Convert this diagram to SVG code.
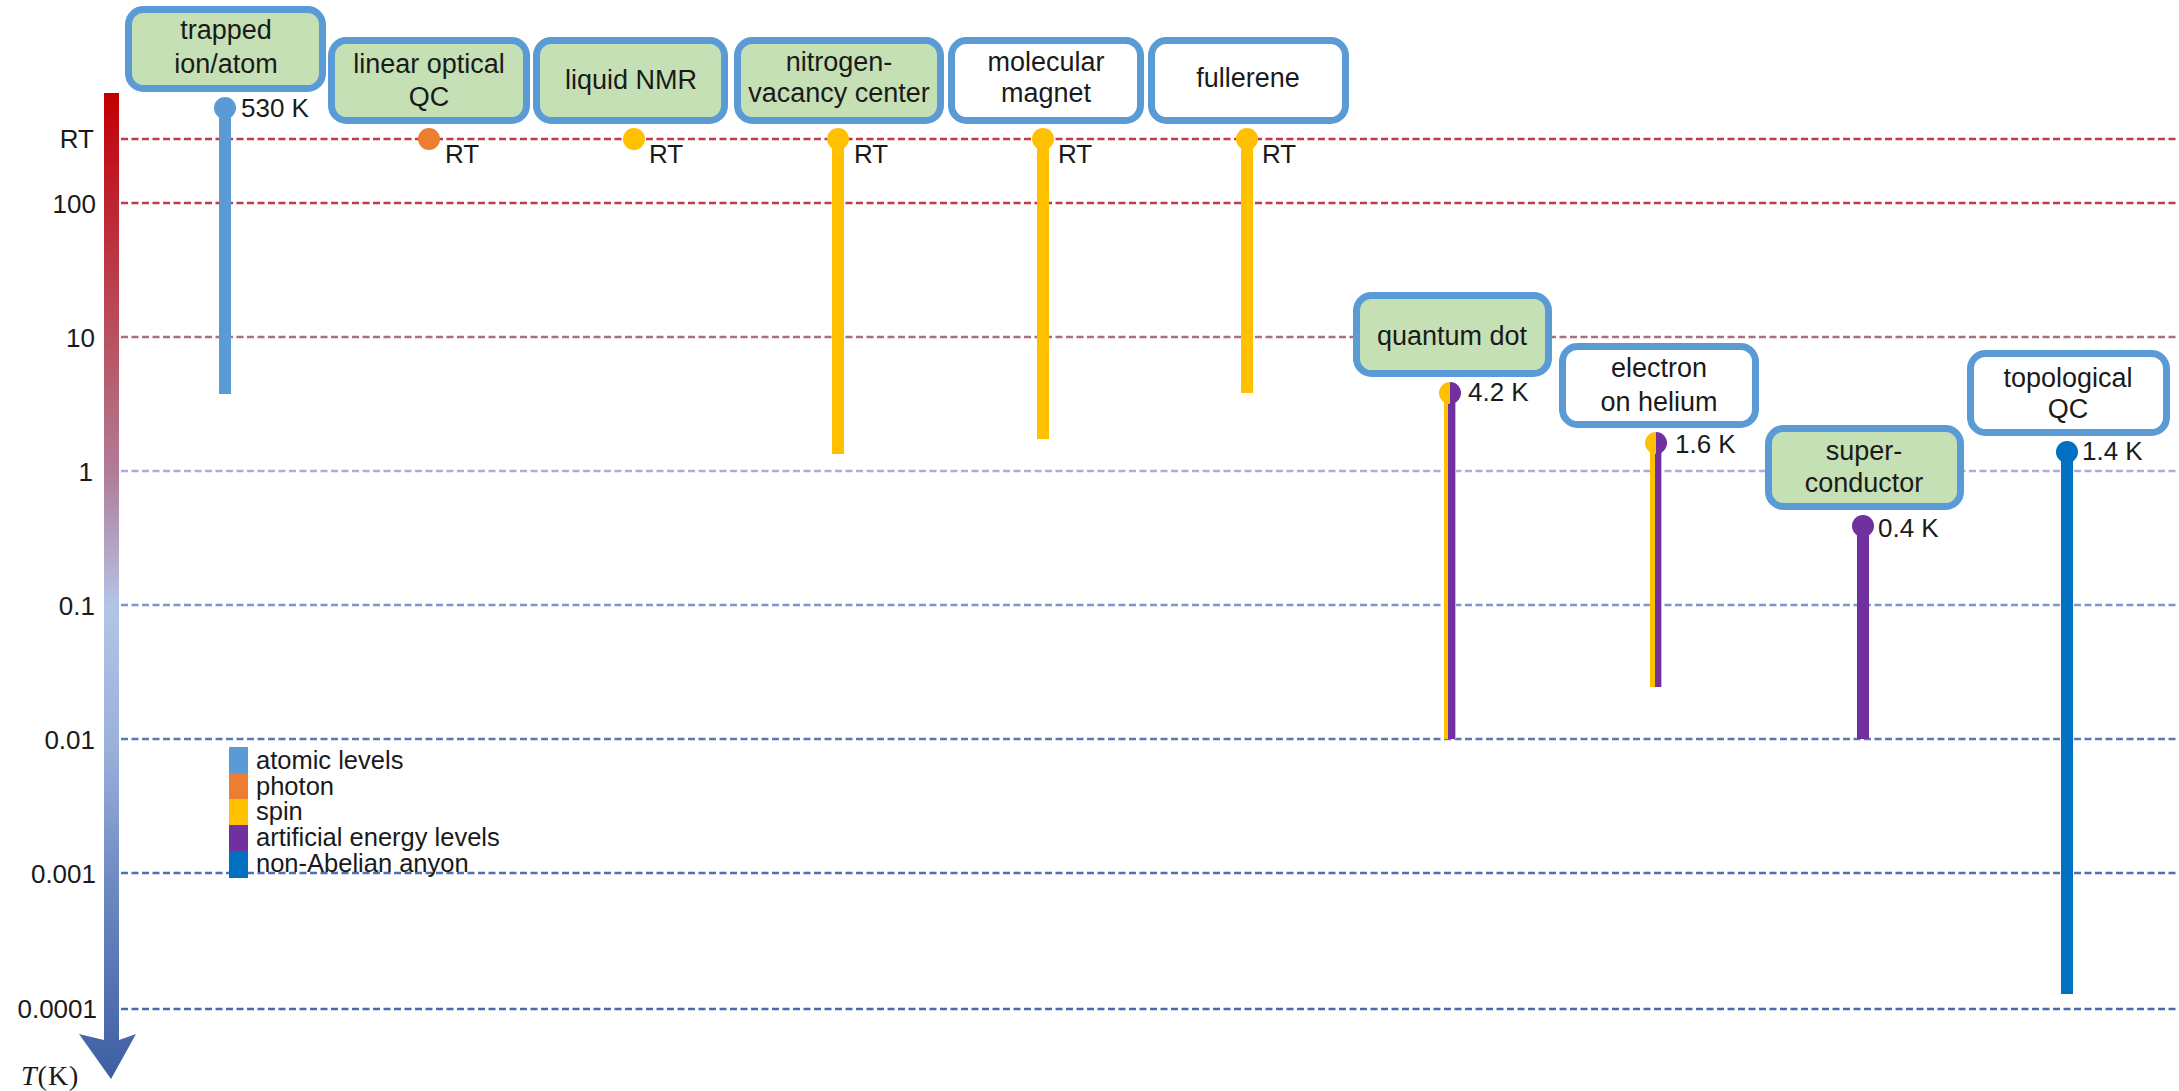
<svg xmlns="http://www.w3.org/2000/svg" width="2179" height="1091" viewBox="0 0 2179 1091">
<defs>
<style>
text{font-family:"Liberation Sans",Arial,sans-serif;fill:#1a1a1a}
.bt{font-size:27px;text-anchor:middle}
.lb{font-size:26px}
.ax{font-size:26px;text-anchor:end}
.lg{font-size:25.5px}
.box{stroke:#5B9BD5;stroke-width:7}
.g{fill:#C5E0B4}
.w{fill:#ffffff}
.grid{stroke-width:2.6;stroke-dasharray:7 3.5;fill:none}
</style>
<linearGradient id="axg" gradientUnits="userSpaceOnUse" x1="0" y1="93" x2="0" y2="1080">
<stop offset="0" stop-color="#C00000"/>
<stop offset="0.06" stop-color="#C0121E"/>
<stop offset="0.25" stop-color="#B8525F"/>
<stop offset="0.39" stop-color="#B07F9B"/>
<stop offset="0.52" stop-color="#B3C5E7"/>
<stop offset="0.66" stop-color="#9BB1DA"/>
<stop offset="0.8" stop-color="#6F8AC3"/>
<stop offset="1" stop-color="#3D5EA3"/>
</linearGradient>
</defs>
<rect width="2179" height="1091" fill="#ffffff"/>

<g id="grid">
<line class="grid" x1="121" y1="139" x2="2179" y2="139" stroke="#C23B4A"/>
<line class="grid" x1="121" y1="203" x2="2179" y2="203" stroke="#C23B4A"/>
<line class="grid" x1="121" y1="337" x2="2179" y2="337" stroke="#A8707F"/>
<line class="grid" x1="121" y1="471" x2="2179" y2="471" stroke="#A9AED6"/>
<line class="grid" x1="121" y1="605" x2="2179" y2="605" stroke="#7F95CC"/>
<line class="grid" x1="121" y1="739" x2="2179" y2="739" stroke="#5A78B8"/>
<line class="grid" x1="121" y1="873" x2="2179" y2="873" stroke="#5070B2"/>
<line class="grid" x1="121" y1="1009" x2="2179" y2="1009" stroke="#4A68AC"/>
</g>

<g id="axis">
<polygon points="104,93 119,93 119,1040 136,1034 111,1079 79,1034 104,1040" fill="url(#axg)"/>
<text class="ax" x="94" y="148">RT</text>
<text class="ax" x="96" y="213">100</text>
<text class="ax" x="95" y="347">10</text>
<text class="ax" x="93" y="481">1</text>
<text class="ax" x="95" y="615">0.1</text>
<text class="ax" x="95" y="749">0.01</text>
<text class="ax" x="96" y="883">0.001</text>
<text class="ax" x="97" y="1018">0.0001</text>
<text x="21" y="1085" style="font-family:'Liberation Serif','Times New Roman',serif;font-size:28px;letter-spacing:1px"><tspan font-style="italic">T</tspan>(K)</text>
</g>

<g id="legend">
<rect x="229" y="747" width="19" height="26" fill="#5B9BD5"/>
<rect x="229" y="773" width="19" height="26" fill="#ED7D31"/>
<rect x="229" y="799" width="19" height="26" fill="#FFC000"/>
<rect x="229" y="825" width="19" height="26" fill="#7030A0"/>
<rect x="229" y="851" width="19" height="27" fill="#0070C0"/>
<text class="lg" x="256" y="769">atomic levels</text>
<text class="lg" x="256" y="795">photon</text>
<text class="lg" x="256" y="820">spin</text>
<text class="lg" x="256" y="846">artificial energy levels</text>
<text class="lg" x="256" y="872">non-Abelian anyon</text>
</g>

<g id="connectors">
<rect x="219" y="108" width="12" height="286" fill="#5B9BD5"/>
<circle cx="225" cy="108" r="11" fill="#5B9BD5"/>
<circle cx="429" cy="139" r="11" fill="#ED7D31"/>
<circle cx="634" cy="139" r="11" fill="#FFC000"/>
<rect x="832" y="139" width="12" height="315" fill="#FFC000"/>
<circle cx="838" cy="139" r="11" fill="#FFC000"/>
<rect x="1037" y="139" width="12" height="300" fill="#FFC000"/>
<circle cx="1043" cy="139" r="11" fill="#FFC000"/>
<rect x="1241" y="139" width="12" height="254" fill="#FFC000"/>
<circle cx="1247" cy="139" r="11" fill="#FFC000"/>
<rect x="1444" y="393" width="12" height="346" fill="#FFC000"/>
<rect x="1448" y="393" width="7" height="346" fill="#7030A0"/>
<path d="M1450,382 A11,11 0 0 0 1450,404 Z" fill="#FFC000"/>
<path d="M1450,382 A11,11 0 0 1 1450,404 Z" fill="#7030A0"/>
<rect x="1650" y="443" width="12" height="244" fill="#FFC000"/>
<rect x="1655" y="443" width="6" height="244" fill="#7030A0"/>
<path d="M1656,432 A11,11 0 0 0 1656,454 Z" fill="#FFC000"/>
<path d="M1656,432 A11,11 0 0 1 1656,454 Z" fill="#7030A0"/>
<rect x="1857" y="526" width="12" height="213" fill="#7030A0"/>
<circle cx="1863" cy="526" r="11" fill="#7030A0"/>
<rect x="2061" y="452" width="12" height="542" fill="#0070C0"/>
<circle cx="2067" cy="452" r="11" fill="#0070C0"/>
<text class="lb" x="241" y="117">530 K</text>
<text class="lb" x="445" y="163">RT</text>
<text class="lb" x="649" y="163">RT</text>
<text class="lb" x="854" y="163">RT</text>
<text class="lb" x="1058" y="163">RT</text>
<text class="lb" x="1262" y="163">RT</text>
<text class="lb" x="1468" y="401">4.2 K</text>
<text class="lb" x="1675" y="453">1.6 K</text>
<text class="lb" x="1878" y="537">0.4 K</text>
<text class="lb" x="2082" y="460">1.4 K</text>
</g>

<g id="trapped-ion">
<rect class="box g" x="128.5" y="9.5" width="194" height="79" rx="15"/>
<text class="bt" x="226" y="39">trapped</text>
<text class="bt" x="226" y="73">ion/atom</text>
</g>
<g id="linear-optical-qc">
<rect class="box g" x="331.5" y="40.5" width="195" height="80" rx="15"/>
<text class="bt" x="429" y="73">linear optical</text>
<text class="bt" x="429" y="106">QC</text>
</g>
<g id="liquid-nmr">
<rect class="box g" x="536.5" y="40.5" width="188" height="80" rx="15"/>
<text class="bt" x="631" y="89">liquid NMR</text>
</g>
<g id="nv-center">
<rect class="box g" x="737.5" y="40.5" width="203" height="80" rx="15"/>
<text class="bt" x="839" y="71">nitrogen-</text>
<text class="bt" x="839" y="102">vacancy center</text>
</g>
<g id="molecular-magnet">
<rect class="box w" x="951.5" y="40.5" width="189" height="80" rx="15"/>
<text class="bt" x="1046" y="71">molecular</text>
<text class="bt" x="1046" y="102">magnet</text>
</g>
<g id="fullerene">
<rect class="box w" x="1151.5" y="40.5" width="194" height="80" rx="15"/>
<text class="bt" x="1248" y="87">fullerene</text>
</g>
<g id="quantum-dot">
<rect class="box g" x="1356.5" y="295.5" width="192" height="78" rx="15"/>
<text class="bt" x="1452" y="345">quantum dot</text>
</g>
<g id="electron-on-helium">
<rect class="box w" x="1562.5" y="346.5" width="193" height="78" rx="15"/>
<text class="bt" x="1659" y="377">electron</text>
<text class="bt" x="1659" y="411">on helium</text>
</g>
<g id="superconductor">
<rect class="box g" x="1768.5" y="428.5" width="192" height="78" rx="15"/>
<text class="bt" x="1864" y="460">super-</text>
<text class="bt" x="1864" y="492">conductor</text>
</g>
<g id="topological-qc">
<rect class="box w" x="1970.5" y="353.5" width="196" height="79" rx="15"/>
<text class="bt" x="2068" y="387">topological</text>
<text class="bt" x="2068" y="418">QC</text>
</g>
</svg>
